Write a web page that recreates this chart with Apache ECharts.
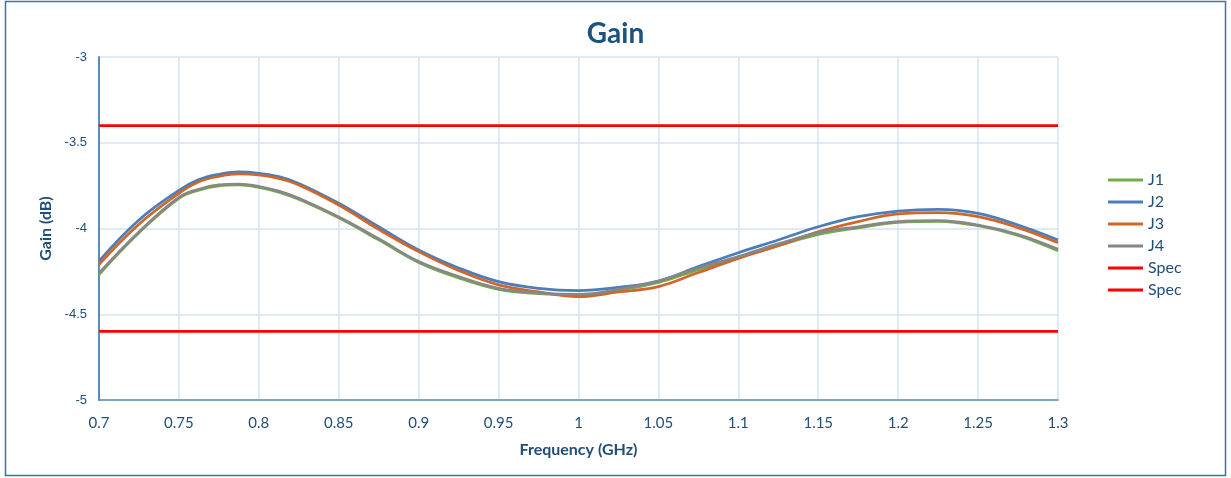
<!DOCTYPE html>
<html>
<head>
<meta charset="utf-8">
<script src="https://cdn.jsdelivr.net/npm/echarts@6/dist/echarts.min.js"></script>
<style>
html,body{margin:0;padding:0;background:#fff;}
#c{width:1231px;height:478px;}
</style>
</head>
<body>
<div id="c"></div>
<script>
// Frequency (GHz)
var freq = [0.7,0.725,0.75,0.7625,0.775,0.7875,0.8,0.8125,0.825,0.85,0.875,0.9,0.925,0.95,0.975,1.0,1.025,1.05,1.075,1.1,1.125,1.15,1.175,1.2,1.225,1.25,1.275,1.3];
var J1 = [-4.268,-4.025,-3.824,-3.776,-3.751,-3.746,-3.760,-3.788,-3.830,-3.938,-4.066,-4.198,-4.288,-4.355,-4.380,-4.388,-4.360,-4.315,-4.240,-4.170,-4.100,-4.035,-3.996,-3.964,-3.958,-3.984,-4.040,-4.130];
var J2 = [-4.190,-3.950,-3.778,-3.715,-3.684,-3.670,-3.678,-3.698,-3.737,-3.853,-3.990,-4.125,-4.230,-4.310,-4.349,-4.362,-4.343,-4.306,-4.222,-4.141,-4.067,-3.990,-3.931,-3.898,-3.888,-3.912,-3.980,-4.067];
var J3 = [-4.210,-3.975,-3.795,-3.728,-3.696,-3.682,-3.688,-3.708,-3.746,-3.863,-4.005,-4.135,-4.245,-4.329,-4.370,-4.397,-4.370,-4.339,-4.257,-4.174,-4.100,-4.020,-3.960,-3.915,-3.908,-3.931,-3.995,-4.083];
var J4 = [-4.260,-4.020,-3.818,-3.771,-3.746,-3.741,-3.755,-3.782,-3.824,-3.933,-4.060,-4.193,-4.280,-4.349,-4.375,-4.384,-4.355,-4.306,-4.230,-4.164,-4.090,-4.025,-3.990,-3.960,-3.954,-3.980,-4.035,-4.121];
var specX = [0.7, 1.3];
var specUpper = [-3.4, -3.4];
var specLower = [-4.6, -4.6];
var yTicks = ['-3','-3.5','-4','-4.5','-5'];
var xTicks = ['0.7','0.75','0.8','0.85','0.9','0.95','1','1.05','1.1','1.15','1.2','1.25','1.3'];

function pairs(xs, ys){ return xs.map(function(x,i){ return [x, ys[i]]; }); }

var textBlue = '#1F4E79';
var chart = echarts.init(document.getElementById('c'), null, {renderer:'canvas'});
function lineSeries(name, ys, color, xs, smooth){
  return {
    name: name, type: 'line', data: pairs(xs || freq, ys),
    showSymbol: false, symbol: 'none', smooth: smooth === false ? false : 0.4,
    lineStyle: {color: color, width: 2.75}, itemStyle: {color: color},
    animation: false
  };
}
chart.setOption({
  animation: false,
  title: {
    text: 'Gain', left: 'center', top: 15,
    textStyle: {fontFamily: 'Lato', fontWeight: 'bold', fontSize: 28, color: '#1A5280'}
  },
  graphic: [{
    type: 'rect', shape: {x: 5.5, y: 1.5, width: 1220, height: 474},
    style: {fill: 'none', stroke: '#41719C', lineWidth: 1.5}, silent: true
  }],
  grid: {left: 99, right: 173, top: 57, bottom: 78},
  legend: {
    orient: 'vertical', left: 1108, top: 172, padding: 0,
    icon: 'rect', itemWidth: 35, itemHeight: 3, itemGap: 6,
    textStyle: {fontFamily: 'Lato', fontSize: 16, color: textBlue, lineHeight: 15},
    data: ['J1','J2','J3','J4','Spec','Spec ']
  },
  xAxis: {
    type: 'value', min: 0.7, max: 1.3, interval: 0.05,
    name: 'Frequency (GHz)', nameLocation: 'middle', nameGap: 42,
    nameTextStyle: {fontFamily: 'Lato', fontWeight: 'bold', fontSize: 16, color: textBlue},
    axisLine: {show: true, onZero: false, lineStyle: {color: '#5B8DB8', width: 1.5}},
    axisTick: {show: false},
    axisLabel: {
      fontFamily: 'Lato', fontSize: 15, color: textBlue, margin: 16,
      formatter: function(v){ var i = Math.round((v - 0.7) / 0.05); return xTicks[i] !== undefined ? xTicks[i] : ''; }
    },
    splitLine: {show: true, lineStyle: {color: '#D5E3F1', width: 1.5}}
  },
  yAxis: {
    type: 'value', min: -5, max: -3, interval: 0.5,
    name: 'Gain (dB)', nameLocation: 'middle', nameGap: 44, nameRotate: 90,
    nameTextStyle: {fontFamily: 'Lato', fontWeight: 'bold', fontSize: 16, color: textBlue},
    axisLine: {show: true, lineStyle: {color: '#5B8DB8', width: 2}},
    axisTick: {show: false},
    axisLabel: {
      fontFamily: 'Liberation Sans', fontSize: 13, color: textBlue, margin: 12,
      formatter: function(v){ var i = Math.round((-3 - v) / 0.5); return yTicks[i] !== undefined ? yTicks[i] : ''; }
    },
    splitLine: {show: true, lineStyle: {color: '#D5E3F1', width: 1.5}}
  },
  series: [
    lineSeries('J1', J1, '#70AD47'),
    lineSeries('J2', J2, '#4A7EBB'),
    lineSeries('J3', J3, '#D0662A'),
    lineSeries('J4', J4, '#878787'),
    lineSeries('Spec', specUpper, '#FF0000', specX, false),
    lineSeries('Spec ', specLower, '#FF0000', specX, false)
  ]
});
</script>
</body>
</html>
